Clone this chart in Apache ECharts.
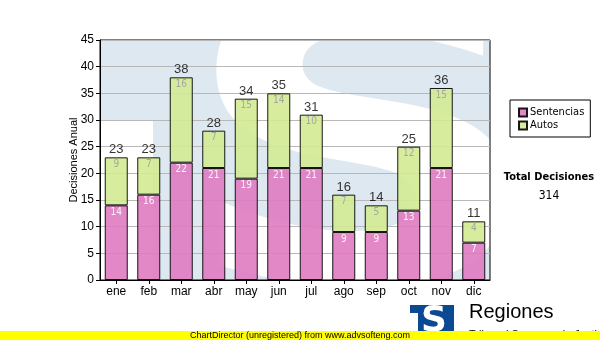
<!DOCTYPE html>
<html>
<head>
<meta charset="utf-8">
<title>Decisiones Anual</title>
<script src="https://cdn.jsdelivr.net/npm/echarts@6/dist/echarts.min.js"></script>
<style>
  html, body { margin: 0; padding: 0; background: #fff; }
  #chart { width: 600px; height: 340px; }
</style>
</head>
<body>
<div id="chart"></div>
<script>
// Monthly decisions, split by type
const months = ['ene', 'feb', 'mar', 'abr', 'may', 'jun', 'jul', 'ago', 'sep', 'oct', 'nov', 'dic'];
const sentencias = [14, 16, 22, 21, 19, 21, 21, 9, 9, 13, 21, 7];
const autos = [9, 7, 16, 7, 15, 14, 10, 7, 5, 12, 15, 4];
const yTicks = { min: 0, max: 45, interval: 5 };

const totals = months.map((m, i) => sentencias[i] + autos[i]);
const grandTotal = totals.reduce((a, b) => a + b, 0);

// Plot rectangle in pixels
const G = { left: 100, top: 40, width: 390, height: 240 };

const condensed = "'DejaVu Sans Condensed', 'DejaVu Sans', sans-serif";
const arial = "'Liberation Sans', Arial, sans-serif";

const chart = echarts.init(document.getElementById('chart'), null, { renderer: 'canvas' });

chart.setOption({
  animation: false,
  backgroundColor: '#fff',
  grid: {
    left: G.left, top: G.top, width: G.width, height: G.height,
    show: true, borderColor: '#000', borderWidth: 1, backgroundColor: 'transparent',
    containLabel: false
  },
  legend: {
    data: ['Sentencias', 'Autos'],
    orient: 'vertical',
    left: 510, top: 100,
    borderColor: '#000', borderWidth: 1,
    padding: [7, 6, 6, 8],
    itemWidth: 8, itemHeight: 8, itemGap: 2,
    icon: 'rect',
    textStyle: { fontSize: 11, fontFamily: condensed, color: '#000', padding: [0, 0, 0, -2] }
  },
  xAxis: {
    type: 'category',
    data: months,
    axisLine: { show: true, lineStyle: { color: '#000', width: 1 } },
    axisTick: { show: true, alignWithLabel: true, length: 4, lineStyle: { color: '#000' } },
    axisLabel: { fontSize: 12, fontFamily: arial, color: '#000', margin: 6 },
    splitLine: { show: false }
  },
  yAxis: {
    type: 'value',
    min: yTicks.min, max: yTicks.max, interval: yTicks.interval,
    name: 'Decisiones Anual',
    nameLocation: 'middle',
    nameRotate: 90,
    nameGap: 21,
    nameMoveOverlap: false,
    nameTextStyle: { fontSize: 11, fontFamily: arial, color: '#000' },
    axisLine: { show: true, lineStyle: { color: '#000', width: 1 } },
    axisTick: { show: true, length: 4, lineStyle: { color: '#000' } },
    axisLabel: { fontSize: 12, fontFamily: arial, color: '#000', margin: 6 },
    splitLine: { show: true, lineStyle: { color: '#b8b8b8', width: 1 } }
  },
  graphic: [
    // watermark: pale square with a white "S"
    { type: 'rect', z: -20, silent: true,
      shape: { x: G.left, y: G.top, width: G.width, height: G.height },
      style: { fill: '#dee8f1' } },
    { type: 'rect', z: -19, silent: true,
      shape: { x: G.left, y: 120, width: 53, height: G.top + G.height - 120 },
      style: { fill: '#fff' } },
    { type: 'text', z: -19, silent: true,
      x: 180, y: 175, scaleX: 1.24, scaleY: 1,
      style: { text: 'S', fontSize: 408, fontWeight: 'bold', fontFamily: "'DejaVu Sans', sans-serif",
               fill: '#fff', textVerticalAlign: 'middle', textAlign: 'left' } },
    // white masks keep the watermark inside the plot
    { type: 'rect', z: -18, silent: true, shape: { x: 0, y: 0, width: 600, height: G.top }, style: { fill: '#fff' } },
    { type: 'rect', z: -18, silent: true, shape: { x: G.left + G.width, y: 0, width: 200, height: 340 }, style: { fill: '#fff' } },
    { type: 'rect', z: -18, silent: true, shape: { x: 0, y: G.top + G.height, width: 600, height: 100 }, style: { fill: '#fff' } },
    { type: 'rect', z: -18, silent: true, shape: { x: 0, y: 0, width: G.left, height: 340 }, style: { fill: '#fff' } },

    // summary block
    { type: 'text', x: 549, y: 177,
      style: { text: 'Total Decisiones', fontSize: 11, fontWeight: 'bold', fontFamily: condensed,
               fill: '#000', textAlign: 'center', textVerticalAlign: 'middle' } },
    { type: 'text', x: 549, y: 196,
      style: { text: String(grandTotal), fontSize: 12, fontFamily: condensed,
               fill: '#000', textAlign: 'center', textVerticalAlign: 'middle' } },

    // footer logo
    { type: 'rect', shape: { x: 410, y: 305, width: 44, height: 35 }, style: { fill: '#0b4a92' } },
    { type: 'rect', shape: { x: 410, y: 313, width: 8, height: 27 }, style: { fill: '#fff' } },
    { type: 'text', x: 434, y: 322,
      style: { text: 'S', fontSize: 36, fontWeight: 'bold', fontFamily: "'DejaVu Sans', sans-serif",
               fill: '#fff', textAlign: 'center', textVerticalAlign: 'middle' } },
    { type: 'text', x: 469, y: 322,
      style: { text: 'Regiones', fontSize: 20, fontFamily: arial, fill: '#000',
               textAlign: 'left', textVerticalAlign: 'bottom' } },
    { type: 'text', x: 469, y: 340,
      style: { text: 'Tribunal Supremo de Justicia', fontSize: 11, fontFamily: arial, fill: '#000',
               textAlign: 'left', textVerticalAlign: 'bottom' } },

    // unregistered banner
    { type: 'rect', z: 50, shape: { x: 0, y: 331, width: 600, height: 9 }, style: { fill: '#ffff00' } },
    { type: 'text', z: 51, x: 300, y: 335.5,
      style: { text: 'ChartDirector (unregistered) from www.advsofteng.com', fontSize: 9, fontFamily: arial,
               fill: '#000', textAlign: 'center', textVerticalAlign: 'middle' } }
  ],
  series: [
    {
      name: 'Sentencias',
      type: 'bar',
      stack: 'total',
      barWidth: 23,
      data: sentencias,
      itemStyle: { color: '#df7bc1', opacity: 0.9, borderColor: '#000', borderWidth: 1 },
      label: { show: true, position: 'insideTop', distance: 2, color: '#fff',
               fontSize: 10, fontFamily: condensed }
    },
    {
      name: 'Autos',
      type: 'bar',
      stack: 'total',
      barWidth: 23,
      data: autos,
      itemStyle: { color: '#d3ea92', opacity: 0.9, borderColor: '#000', borderWidth: 1 },
      label: { show: true, position: 'insideTop', distance: 2, color: '#a0a0a0',
               fontSize: 10, fontFamily: condensed }
    },
    {
      name: 'Total',
      type: 'scatter',
      data: totals,
      symbolSize: 0,
      silent: true,
      label: { show: true, position: 'top', distance: 1, color: '#000',
               fontSize: 13, fontFamily: arial }
    }
  ]
});
</script>
</body>
</html>
